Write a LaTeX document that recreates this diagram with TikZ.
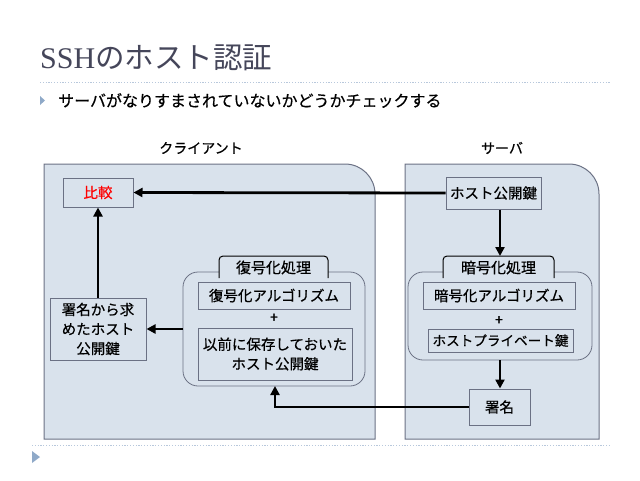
\documentclass[tikz,border=0pt]{standalone}
\usepackage{fontspec}
\setmainfont{Noto Sans CJK JP}
\newfontfamily\jp[FakeBold=0.5]{Noto Sans CJK JP}
\newfontfamily\jpt{Noto Sans CJK JP}
\newfontfamily\serifl{Liberation Serif}
\usetikzlibrary{arrows.meta}
\definecolor{panelfill}{HTML}{D9E2EC}
\definecolor{panelline}{HTML}{6B7184}
\definecolor{titlecol}{HTML}{45465A}
\definecolor{dotcol}{HTML}{B8C8DC}
\definecolor{bulletcol}{HTML}{8FA9C8}
\tikzset{
  panel/.style={fill=panelfill, draw=panelline, line width=1pt},
  box/.style={draw=panelline, fill=panelfill, line width=1pt, inner sep=0pt, font=\jp\fontsize{14.5}{19.5}\selectfont, align=center},
  conn/.style={line width=2.8pt, -{Triangle[length=9pt,width=9pt]}},
  lbl/.style={font=\jp\fontsize{14}{16}\selectfont, inner sep=0pt},
  tablbl/.style={font=\jp\fontsize{15}{16}\selectfont, inner sep=0pt},
}
\begin{document}
\begin{tikzpicture}[x=1pt,y=-1pt]
\useasboundingbox (0,0) rectangle (640,480);
% title
\node[anchor=base west, inner sep=0pt, text=titlecol] (title) at (40,68) {\serifl\fontsize{30}{32}\selectfont SSH\jpt\fontsize{29.5}{30}\selectfont のホスト認証};
\draw[dotcol, line width=1pt, dash pattern=on 1.2pt off 1.6pt] (40,82) -- (610,82);
\fill[bulletcol] (40,96) -- (45,100.5) -- (40,105) -- cycle;
\node[anchor=west, inner sep=0pt] (sub) at (58,100.5) {\jp\fontsize{16}{18}\selectfont サーバがなりすまされていないかどうかチェックする};
% panels
\node[lbl] (clab) at (201,148) {クライアント};
\node[lbl] (slab) at (502,148) {サーバ};
\draw[panel] (44,439) -- (44,164) -- (345,164) arc[start angle=-90, end angle=0, radius=30] -- (375,439) -- cycle;
\draw[panel] (405,439) -- (405,164) -- (569,164) arc[start angle=-90, end angle=0, radius=30] -- (599,439) -- cycle;
% client nodes
\node[box, minimum width=70pt, minimum height=29pt, text=red] (cmp) at (98,192.5) {比較};
\node[box, minimum width=96pt, minimum height=62pt] (sig2key) at (98,329) {署名から求\\めたホスト\\公開鍵};
% decrypt group
\draw[draw=panelline, fill=panelfill, line width=0.8pt, rounded corners=15pt] (183,272) rectangle (365,386);
\coordinate (decL) at (183,329);
\coordinate (decB) at (275,386);
\draw[draw=black, fill=panelfill, line width=1pt, rounded corners=4pt] (219,278) -- (219,256) -- (328,256) -- (328,278);
\node[tablbl] (dectab) at (273.5,267.5) {復号化処理};
\node[box, minimum width=152pt, minimum height=27pt] (decalg) at (274,295.5) {復号化アルゴリズム};
\node[lbl] (plus1) at (274,318) {+};
\node[box, minimum width=154pt, minimum height=52pt] (oldkey) at (275,354) {以前に保存しておいた\\ホスト公開鍵};
% server nodes
\node[box, minimum width=95pt, minimum height=32pt] (pub) at (493.5,193) {ホスト公開鍵};
\draw[draw=panelline, fill=panelfill, line width=0.8pt, rounded corners=15pt] (408,272) rectangle (592,360);
\coordinate (encB) at (500,360);
\draw[draw=black, fill=panelfill, line width=1pt, rounded corners=4pt] (443,278) -- (443,256) -- (554,256) -- (554,278);
\coordinate (encT) at (500,256);
\node[tablbl] (enctab) at (498.5,267.5) {暗号化処理};
\node[box, minimum width=152pt, minimum height=27pt] (encalg) at (499,295.5) {暗号化アルゴリズム};
\node[lbl] (plus2) at (499,320.5) {+};
\node[box, minimum width=145pt, minimum height=23pt, font=\jp\fontsize{13.6}{16}\selectfont] (priv) at (500.5,340.5) {ホストプライベート鍵};
\node[box, minimum width=61pt, minimum height=36pt] (sig) at (499.5,407) {署名};
% connectors
\draw[conn] (pub.west) -- (cmp.east);
\draw[conn] (sig2key.north) -- (cmp.south);
\draw[conn] (decL) -- (sig2key.east |- decL);
\draw[conn] (pub.south -| encT) -- (encT);
\draw[conn] (encB) -- (sig.north -| encB);
\draw[conn] (sig.west) -| (decB);
% bottom
\draw[dotcol, line width=1pt, dash pattern=on 1.2pt off 1.6pt] (32,445) -- (610,445);
\fill[bulletcol] (32,451) -- (40,457) -- (32,463) -- cycle;
\end{tikzpicture}
\end{document}
